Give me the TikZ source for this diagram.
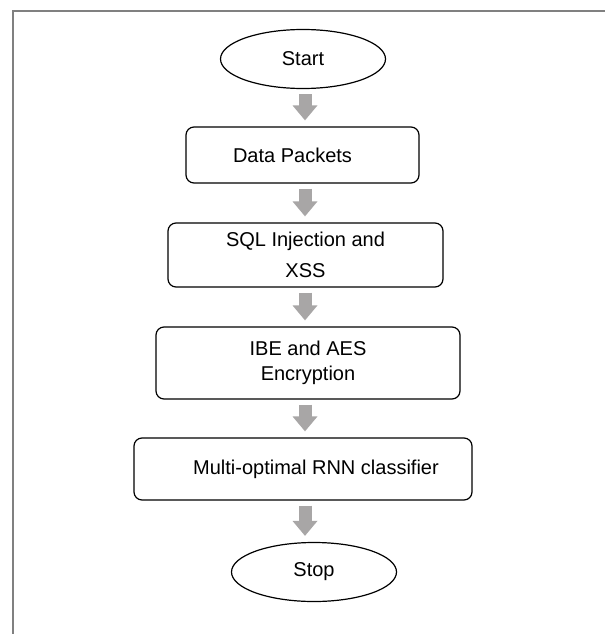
\documentclass[tikz,border=0pt]{standalone}
\usepackage{fontspec}
\setmainfont{Liberation Sans}
\usetikzlibrary{shapes.geometric,arrows.meta}
\definecolor{arrowgray}{RGB}{168,166,166}
\definecolor{framegray}{RGB}{128,128,128}
\tikzset{
  term/.style={ellipse, draw=black, line width=1.2pt, inner sep=0pt, font=\fontsize{20}{24}\selectfont},
  procbox/.style={rectangle, rounded corners=8pt, draw=black, line width=1.2pt, inner sep=0pt, align=center},
  flowarrow/.style={draw=arrowgray, line width=13pt, line cap=butt, -{Triangle[width=24pt,length=15pt]}, arrowgray, shorten <=5pt, shorten >=6pt}
}
\begin{document}
\begin{tikzpicture}[x=1pt,y=-1pt]
\useasboundingbox (0,0) rectangle (605,634);
\fill[white] (0,0) rectangle (605,634);
\draw[framegray, line width=2pt] (13,634) -- (13,11) -- (605,11);
\coordinate (ax) at (305,0);
\node[term, minimum width=165pt, minimum height=59pt] (start) at (303,59) {Start};
\node[procbox, minimum width=233pt, minimum height=56pt, font=\fontsize{20}{24}\selectfont] (dp) at (302.5,155) {\hspace*{-20pt}Data Packets};
\node[procbox, minimum width=275pt, minimum height=64pt, font=\fontsize{20}{31}\selectfont] (sql) at (305.5,255) {SQL Injection and\\XSS};
\node[procbox, minimum width=304pt, minimum height=72pt, font=\fontsize{20}{25}\selectfont] (ibe) at (308,363) {IBE and AES\\Encryption};
\node[procbox, minimum width=338pt, minimum height=62pt, font=\fontsize{20}{24}\selectfont] (rnn) at (303,469) {\hspace*{26pt}Multi-optimal RNN classifier};
\node[term, minimum width=165pt, minimum height=59pt] (stop) at (314,572) {Stop};
\draw[flowarrow] (start.south -| ax) -- (dp.north -| ax);
\draw[flowarrow] (dp.south -| ax) -- (sql.north -| ax);
\draw[flowarrow] (sql.south -| ax) -- (ibe.north -| ax);
\draw[flowarrow] (ibe.south -| ax) -- (rnn.north -| ax);
\draw[flowarrow] (rnn.south -| ax) -- (stop.north -| ax);
\end{tikzpicture}
\end{document}
